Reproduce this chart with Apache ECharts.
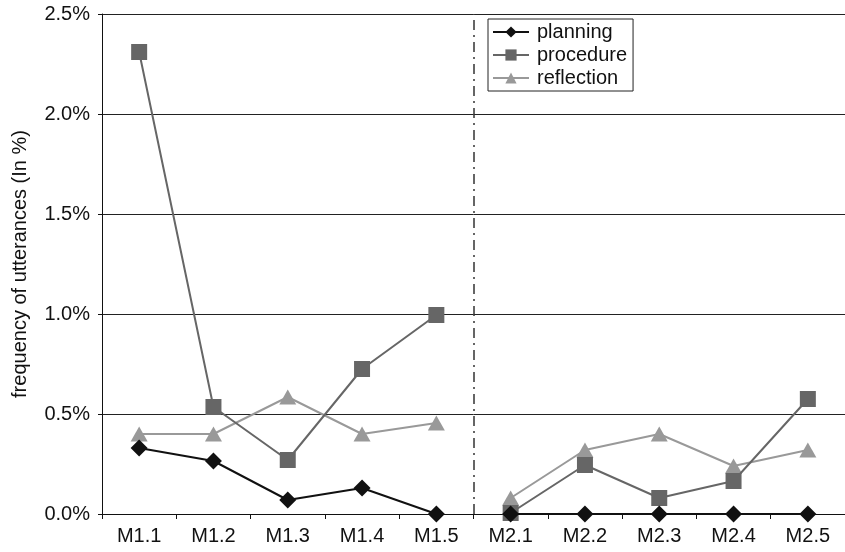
<!DOCTYPE html>
<html>
<head>
<meta charset="utf-8">
<script src="https://cdn.jsdelivr.net/npm/echarts@6/dist/echarts.min.js"></script>
<style>
  html, body { margin: 0; padding: 0; background: #fff; }
  #chart { width: 845px; height: 552px; }
</style>
</head>
<body>
<div id="chart"></div>
<script>
// Modules and the utterance shares (in %) per module
const categories = ['M1.1', 'M1.2', 'M1.3', 'M1.4', 'M1.5', 'M2.1', 'M2.2', 'M2.3', 'M2.4', 'M2.5'];
const planning   = [0.33, 0.265, 0.07, 0.13, 0.0, 0.0, 0.0, 0.0, 0.0, 0.0];
const procedure  = [2.31, 0.535, 0.27, 0.725, 0.995, 0.005, 0.245, 0.08, 0.165, 0.575];
const reflection = [0.40, 0.40, 0.585, 0.40, 0.455, 0.08, 0.32, 0.40, 0.24, 0.32];
const yTicks = [0, 0.5, 1.0, 1.5, 2.0, 2.5];
const separatorAt = 5; // boundary between the M1 and M2 blocks

const font = 'Liberation Sans, Arial, Helvetica, sans-serif';
const chart = echarts.init(document.getElementById('chart'), null, { renderer: 'canvas' });

// Each block is drawn as its own polyline so the lines break at the separator
function block(values, first) {
  return values.map((v, i) => ((i < separatorAt) === first ? v : null));
}

const styles = {
  planning:   { symbol: 'diamond',  symbolSize: [17, 17], color: '#111111', z: 5 },
  procedure:  { symbol: 'rect',     symbolSize: 16,       color: '#666666', z: 4 },
  reflection: { symbol: 'triangle', symbolSize: [17, 15], color: '#999999', z: 3 }
};
const dataByName = { planning, procedure, reflection };

const lineSeries = [];
['reflection', 'procedure', 'planning'].forEach(name => {
  const s = styles[name];
  [true, false].forEach(first => {
    lineSeries.push({
      name,
      type: 'line',
      data: block(dataByName[name], first),
      connectNulls: false,
      symbol: s.symbol,
      symbolSize: s.symbolSize,
      z: s.z,
      itemStyle: { color: s.color },
      lineStyle: { color: s.color, width: 2 }
    });
  });
});

chart.setOption({
  animation: false,
  backgroundColor: '#ffffff',
  grid: { left: 102, top: 14, width: 748, height: 500, containLabel: false },
  legend: {
    orient: 'vertical',
    left: 488,
    top: 19,
    padding: [3, 6, 3, 4],
    itemGap: 3,
    itemWidth: 36,
    itemHeight: 14,
    borderColor: '#222',
    borderWidth: 1,
    backgroundColor: '#fff',
    textStyle: { fontFamily: font, fontSize: 20, color: '#111', padding: [0, 0, 0, 3] },
    data: ['planning', 'procedure', 'reflection']
  },
  xAxis: [
    {
      type: 'category',
      data: categories,
      boundaryGap: true,
      axisLine: { lineStyle: { color: '#111', width: 1 } },
      axisTick: { show: true, length: 5, lineStyle: { color: '#111' } },
      axisLabel: { fontFamily: font, fontSize: 20, color: '#111', margin: 12 },
      splitLine: { show: false }
    },
    {
      type: 'value',
      min: 0,
      max: categories.length,
      show: false
    }
  ],
  yAxis: {
    type: 'value',
    min: 0,
    max: 2.5,
    interval: 0.5,
    name: 'frequency of utterances (In %)',
    nameLocation: 'middle',
    nameGap: 72,
    nameTextStyle: { fontFamily: font, fontSize: 20, color: '#111' },
    axisLine: { show: true, lineStyle: { color: '#111', width: 1 } },
    axisTick: { show: true, length: 4, lineStyle: { color: '#111' } },
    axisLabel: {
      fontFamily: font, fontSize: 20, color: '#111', margin: 12,
      formatter: v => (yTicks.includes(+v.toFixed(1)) ? v.toFixed(1) + '%' : '')
    },
    splitLine: { show: true, lineStyle: { color: '#222', width: 1 } }
  },
  series: [
    {
      name: 'separator',
      type: 'line',
      xAxisIndex: 1,
      data: [],
      silent: true,
      markLine: {
        symbol: 'none',
        silent: true,
        label: { show: false },
        lineStyle: { color: '#333', width: 1.5, type: [10, 5, 2, 5] },
        data: [{ xAxis: separatorAt }]
      }
    }
  ].concat(lineSeries)
});
</script>
</body>
</html>
